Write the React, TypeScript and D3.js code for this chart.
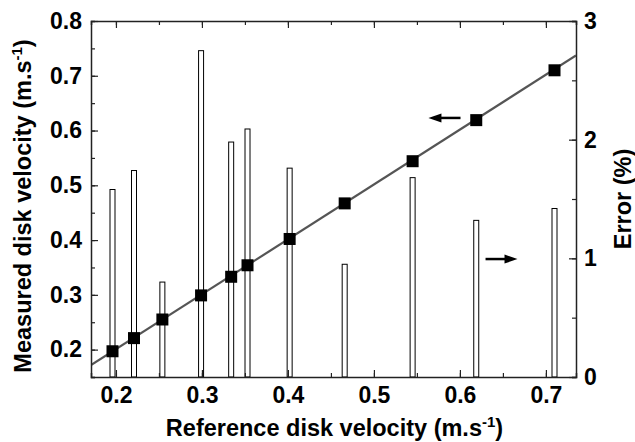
import React, { useEffect, useRef } from 'react';
import * as d3 from 'd3';

// reference disk velocity (m/s), measured disk velocity (m/s), relative error (%)
const reference = [0.196, 0.221, 0.254, 0.299, 0.334, 0.353, 0.402, 0.466, 0.545, 0.619, 0.710];
const measured = [0.197, 0.221, 0.255, 0.299, 0.333, 0.354, 0.402, 0.467, 0.544, 0.619, 0.710];
const errorPct = [1.58, 1.74, 0.80, 2.75, 1.98, 2.09, 1.76, 0.95, 1.68, 1.32, 1.42];

// linear fit measured = slope * reference + intercept
const fitSlope = 1.002;
const fitIntercept = 0.0005;

const xTicks = [0.2, 0.3, 0.4, 0.5, 0.6, 0.7];
const yLeftTicks = [0.2, 0.3, 0.4, 0.5, 0.6, 0.7, 0.8];
const yRightTicks = [0, 1, 2, 3];

const W = 635, H = 442;
const margin = { top: 21, right: 59, bottom: 65, left: 91 };
const FONT = '"Liberation Sans", Arial, Helvetica, sans-serif';

export default function App() {
  const ref = useRef<SVGSVGElement>(null);

  useEffect(() => {
    const svg = d3.select(ref.current);
    svg.selectAll('*').remove();

    const x0 = margin.left, x1 = W - margin.right;
    const y0 = H - margin.bottom, y1 = margin.top;

    const x = d3.scaleLinear().domain([0.171, 0.735]).range([x0, x1]);
    const yL = d3.scaleLinear().domain([0.15, 0.8]).range([y0, y1]);
    const yR = d3.scaleLinear().domain([0, 3]).range([y0, y1]);

    svg.append('defs').append('clipPath').attr('id', 'plot')
      .append('rect').attr('x', x0).attr('y', y1).attr('width', x1 - x0).attr('height', y0 - y1);

    // error bars (right axis)
    const barW = 5;
    svg.append('g').selectAll('rect').data(errorPct).enter().append('rect')
      .attr('x', (d, i) => x(reference[i]) - barW / 2)
      .attr('y', d => yR(d))
      .attr('width', barW)
      .attr('height', d => yR(0) - yR(d))
      .attr('fill', 'white')
      .attr('stroke', 'black')
      .attr('stroke-width', 1);

    // fit line
    const xd = x.domain();
    svg.append('line')
      .attr('clip-path', 'url(#plot)')
      .attr('x1', x(xd[0])).attr('y1', yL(fitSlope * xd[0] + fitIntercept))
      .attr('x2', x(xd[1])).attr('y2', yL(fitSlope * xd[1] + fitIntercept))
      .attr('stroke', '#555').attr('stroke-width', 2.2);

    // squares
    const sq = 12;
    svg.append('g').selectAll('rect').data(measured).enter().append('rect')
      .attr('x', (d, i) => x(reference[i]) - sq / 2)
      .attr('y', d => yL(d) - sq / 2)
      .attr('width', sq).attr('height', sq)
      .attr('fill', 'black');

    // axes
    const axisColor = '#222';
    const styleAxis = (g: any) => {
      g.select('.domain').attr('stroke', axisColor).attr('stroke-width', 1.5);
      g.selectAll('.tick line').attr('stroke', axisColor).attr('stroke-width', 1.2);
      g.selectAll('text').attr('font-family', FONT).attr('font-weight', 'bold')
        .attr('font-size', 23).attr('fill', 'black');
    };
    const minorX = d3.range(0.2, 0.75, 0.05).filter(v => v < 0.735);
    const minorYL = d3.range(0.15, 0.8, 0.05);
    const minorYR = d3.range(0, 3.01, 0.5);

    // bottom
    svg.append('g').attr('transform', `translate(0,${y0})`)
      .call(d3.axisBottom(x).tickValues(minorX).tickSize(-4).tickFormat(() => ''))
      .call(styleAxis);
    const gb = svg.append('g').attr('transform', `translate(0,${y0})`)
      .call(d3.axisBottom(x).tickValues(xTicks).tickSize(-7).tickFormat(d3.format('.1f')))
      .call(styleAxis);
    gb.selectAll('text').attr('y', 26).attr('dy', 0);
    gb.select('.domain').remove();

    // top
    svg.append('g').attr('transform', `translate(0,${y1})`)
      .call(d3.axisTop(x).tickValues(minorX).tickSize(-4).tickFormat(() => ''))
      .call(styleAxis);
    const gt = svg.append('g').attr('transform', `translate(0,${y1})`)
      .call(d3.axisTop(x).tickValues(xTicks).tickSize(-7).tickFormat(() => ''))
      .call(styleAxis);
    gt.select('.domain').remove();

    // left
    svg.append('g').attr('transform', `translate(${x0},0)`)
      .call(d3.axisLeft(yL).tickValues(minorYL).tickSize(-4).tickFormat(() => ''))
      .call(styleAxis);
    const gl = svg.append('g').attr('transform', `translate(${x0},0)`)
      .call(d3.axisLeft(yL).tickValues(yLeftTicks).tickSize(-7).tickFormat(d3.format('.1f')))
      .call(styleAxis);
    gl.selectAll('text').attr('x', -9);
    gl.select('.domain').remove();

    // right
    svg.append('g').attr('transform', `translate(${x1},0)`)
      .call(d3.axisRight(yR).tickValues(minorYR).tickSize(-4).tickFormat(() => ''))
      .call(styleAxis);
    const gr = svg.append('g').attr('transform', `translate(${x1},0)`)
      .call(d3.axisRight(yR).tickValues(yRightTicks).tickSize(-7).tickFormat(d3.format('d')))
      .call(styleAxis);
    gr.selectAll('text').attr('x', 8);
    gr.select('.domain').remove();

    // arrows pointing to the relevant axis
    const arrow = (xa: number, xb: number, yy: number) => {
      const dir = xb > xa ? 1 : -1;
      svg.append('line').attr('x1', xa).attr('y1', yy).attr('x2', xb - dir * 10).attr('y2', yy)
        .attr('stroke', 'black').attr('stroke-width', 2.5);
      svg.append('path')
        .attr('d', `M${xb},${yy} L${xb - dir * 13},${yy - 4.5} L${xb - dir * 13},${yy + 4.5} Z`)
        .attr('fill', 'black');
    };
    arrow(x(0.6007), x(0.5634), yL(0.623));
    arrow(x(0.6298), x(0.667), yR(0.994));

    // titles
    const title = (t: any) => t.attr('font-family', FONT).attr('font-weight', 'bold')
      .attr('font-size', 23.5).attr('fill', 'black');
    const bt = svg.append('text').attr('x', (x0 + x1) / 2 + 1).attr('y', 436)
      .attr('text-anchor', 'middle').call(title);
    bt.append('tspan').text('Reference disk velocity (m.s');
    bt.append('tspan').text('-1').attr('font-size', 15).attr('dy', -9);
    bt.append('tspan').text(')').attr('dy', 9);

    const lt = svg.append('text').attr('transform', `translate(31,206) rotate(-90)`)
      .attr('text-anchor', 'middle').call(title);
    lt.append('tspan').text('Measured disk velocity (m.s');
    lt.append('tspan').text('-1').attr('font-size', 15).attr('dy', -9);
    lt.append('tspan').text(')').attr('dy', 9);

    svg.append('text').attr('transform', `translate(631,199) rotate(-90)`)
      .attr('text-anchor', 'middle').call(title).text('Error (%)');
  }, []);

  return (
    <svg ref={ref} width={W} height={H}
      style={{ position: 'absolute', left: 0, top: 0, background: 'white' }} />
  );
}
